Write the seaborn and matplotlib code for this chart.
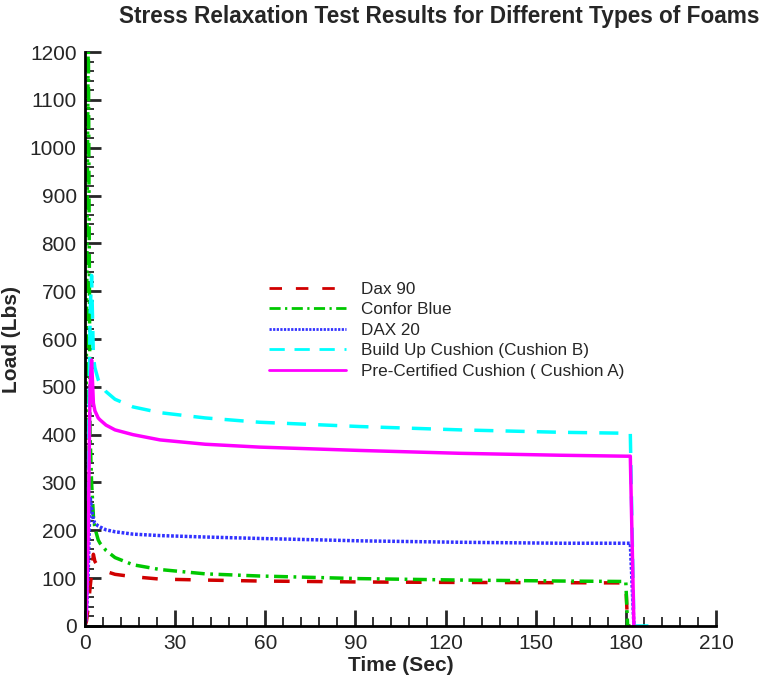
import numpy as np
import pandas as pd
import matplotlib
matplotlib.use("Agg")
import matplotlib.pyplot as plt
import seaborn as sns
from matplotlib.ticker import MultipleLocator

# time stamps (sec) shared by all foams, nan = no reading
time_sec = [0, 0.5, 1.1, 1.7, 2.2, 2.8, 3.3, 4.4, 5, 7, 10, 16, 25, 40, 58,
            91.5, 125, 158, 180, 180.6, 181.5, 182.7, 191]

dax90 = [0, 10, 40, 80, 110, 150, 135, 124, 120, 114, 108, 103, 98, 96, 94,
         92, 91, 90.5, 90, 0, 0, np.nan, np.nan]
confor_blue = [0, 600, 1260, 400, 300, 230, 205, 180, 173, 158, 143, 128, 118, 109, 104.5,
               99, 96, 94, 93, 0, 0, np.nan, np.nan]
dax20 = [0, 20, 120, 270, 245, 222, 215, 209, 207, 201, 197, 192, 189, 186, 183,
         178, 175, 173, 173, 173, 173, 0, np.nan]
cushion_b = [0, 50, 300, 650, 733, 563, 540, 515, 507, 490, 474, 458, 446, 435, 426,
             417, 410, 405, 403, 403, 402, 0, 0]
cushion_a = [0, 30, 200, 500, 556, 466, 450, 435, 431, 420, 410, 400, 389, 380, 374,
             367, 361, 357, 355, 355, 355, 0, np.nan]

labels = ["Dax 90", "Confor Blue", "DAX 20", "Build Up Cushion (Cushion B)",
          "Pre-Certified Cushion ( Cushion A)"]
colors = ["#d00000", "#00c800", "#3232ff", "#00ffff", "#ff00ff"]
dash_styles = [(4.5, 5), (4, 1.6, 0.8, 1.6), (0.8, 0.5), (5.5, 3.5), ""]

df = pd.DataFrame({"Time": time_sec, "Dax 90": dax90, "Confor Blue": confor_blue,
                   "DAX 20": dax20, "Build Up Cushion (Cushion B)": cushion_b,
                   "Pre-Certified Cushion ( Cushion A)": cushion_a})

sns.set_style("ticks")
plt.rcParams["font.family"] = ["Liberation Sans", "DejaVu Sans"]

fig = plt.figure(figsize=(7.69, 6.76), dpi=100)
ax = fig.add_axes([0.1105, 0.074, 0.8205, 0.849])

for name, col, ds in zip(labels, colors, dash_styles):
    d = df[["Time", name]].dropna()
    sns.lineplot(x=d["Time"], y=d[name], ax=ax, color=col, lw=2.5, label=name)
    if ds:
        ax.lines[-1].set_dashes(ds)

ax.set_xlim(0, 210)
ax.set_ylim(0, 1200)
ax.xaxis.set_major_locator(MultipleLocator(30))
ax.xaxis.set_minor_locator(MultipleLocator(6))
ax.yaxis.set_major_locator(MultipleLocator(100))
ax.yaxis.set_minor_locator(MultipleLocator(20))
ax.tick_params(which="major", direction="in", length=11.5, width=2, labelsize=15, pad=6)
ax.tick_params(which="minor", direction="in", length=6.5, width=1.3)
for s in ["top", "right"]:
    ax.spines[s].set_visible(False)
for s in ["left", "bottom"]:
    ax.spines[s].set_linewidth(2)
    ax.spines[s].set_color("black")

ax.set_xlabel("Time (Sec)", fontsize=15, fontweight="bold", labelpad=2)
ax.set_ylabel("Load (Lbs)", fontsize=15, fontweight="bold", labelpad=6)

fig.text(0.571, 0.975, "Stress Relaxation Test Results for Different Types of Foams",
         ha="center", va="center", fontsize=16.3, fontweight="bold")

leg = ax.legend(loc="upper left", bbox_to_anchor=(0.267, 0.627), frameon=False, fontsize=12.3,
                handlelength=4.5, labelspacing=0.33, handletextpad=0.88)
for h in leg.get_lines():
    h.set_linewidth(2)

fig.savefig("out.png", dpi=100)
